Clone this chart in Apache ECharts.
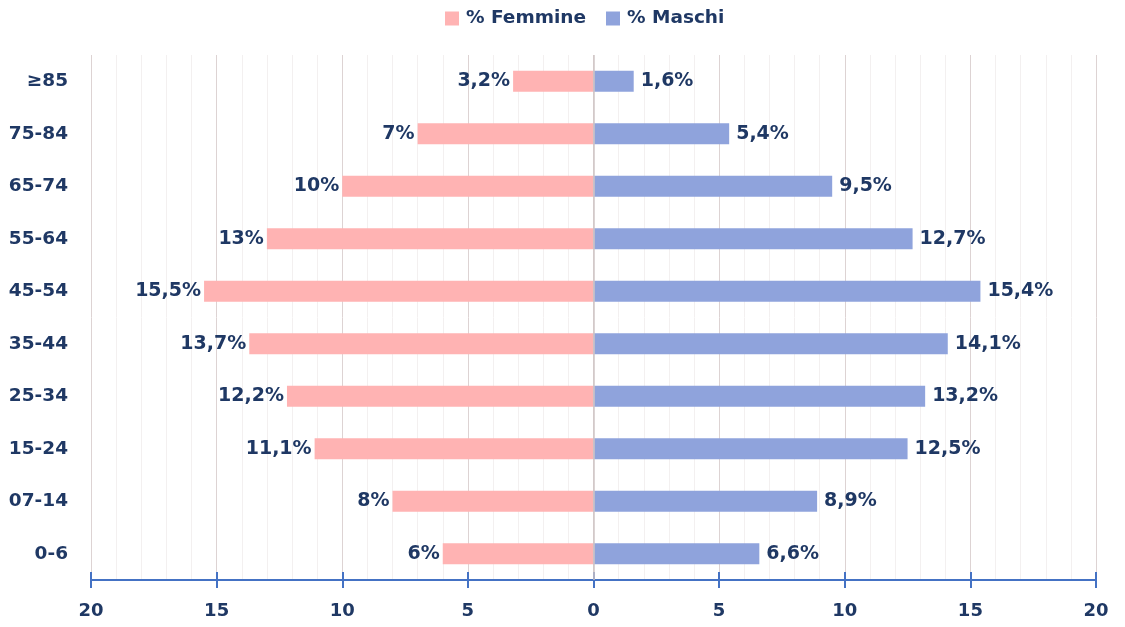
<!DOCTYPE html>
<html>
<head>
<meta charset="utf-8">
<script src="https://cdn.jsdelivr.net/npm/echarts@6/dist/echarts.min.js"></script>
<style>
  html, body { margin: 0; padding: 0; background: #fff; }
  #chart { width: 1125px; height: 627px; }
</style>
</head>
<body>
<div id="chart"></div>
<script>
// classi di eta, dal basso verso l'alto
const categories = ['0-6', '07-14', '15-24', '25-34', '35-44', '45-54', '55-64', '65-74', '75-84', '≥85'];
const femmine = [6, 8, 11.1, 12.2, 13.7, 15.5, 13, 10, 7, 3.2];
const maschi = [6.6, 8.9, 12.5, 13.2, 14.1, 15.4, 12.7, 9.5, 5.4, 1.6];
const xTicks = [-20, -15, -10, -5, 0, 5, 10, 15, 20];

const navy = '#1F3864';
const font = '"DejaVu Sans", sans-serif';

function pct(v) {
    return String(Math.abs(v)).replace('.', ',') + '%';
}

const chart = echarts.init(document.getElementById('chart'));
chart.setOption({
    animation: false,
    textStyle: { fontFamily: font },
    legend: {
        top: 4,
        left: 440,
        icon: 'rect',
        itemWidth: 14,
        itemHeight: 14,
        itemGap: 20,
        textStyle: { color: navy, fontWeight: 'bold', fontSize: 18.5, fontFamily: font, padding: [0, 0, 0, 2] },
        data: ['% Femmine', '% Maschi']
    },
    grid: { left: 91, right: 29, top: 55, bottom: 47 },
    xAxis: [{
        type: 'value',
        min: xTicks[0],
        max: xTicks[xTicks.length - 1],
        interval: 5,
        position: 'bottom',
        axisLine: { show: true, lineStyle: { color: '#4472C4', width: 2 } },
        axisTick: { show: true, length: 8, lineStyle: { color: '#4472C4', width: 2 } },
        axisLabel: {
            color: navy, fontWeight: 'bold', fontSize: 18, margin: 22,
            formatter: v => String(Math.abs(v))
        },
        splitLine: { show: true, lineStyle: { color: '#ddd3d3', width: 1 } },
        minorTick: { show: false, splitNumber: 5 },
        minorSplitLine: { show: true, lineStyle: { color: '#f3f0f0', width: 1 } }
    }, {
        type: 'value',
        min: xTicks[0],
        max: xTicks[xTicks.length - 1],
        interval: 5,
        position: 'bottom',
        axisLine: { show: false },
        axisTick: { show: true, inside: true, length: 8, lineStyle: { color: '#4472C4', width: 2 } },
        axisLabel: { show: false },
        splitLine: { show: false }
    }],
    yAxis: {
        type: 'category',
        data: categories,
        axisLine: { show: false },
        axisTick: { show: false },
        axisLabel: { color: navy, fontWeight: 'bold', fontSize: 18.5, margin: 23 }
    },
    series: [{
        name: '% Femmine',
        type: 'bar',
        stack: 'pop',
        barWidth: 21,
        data: femmine.map(v => -v),
        itemStyle: { color: '#FFB3B3' },
        label: {
            show: true, position: 'left', distance: 3,
            color: navy, fontWeight: 'bold', fontSize: 19,
            formatter: p => pct(p.value)
        }
    }, {
        name: '% Maschi',
        type: 'bar',
        stack: 'pop',
        barWidth: 21,
        data: maschi,
        itemStyle: { color: '#8FA3DC' },
        label: {
            show: true, position: 'right', distance: 7,
            color: navy, fontWeight: 'bold', fontSize: 19,
            formatter: p => pct(p.value)
        }
    }, {
        // linea verticale dello zero
        type: 'line',
        data: [],
        markLine: {
            silent: true,
            symbol: 'none',
            label: { show: false },
            lineStyle: { color: '#cfc6c6', type: 'solid', width: 1.5 },
            data: [{ xAxis: 0 }]
        }
    }]
});
</script>
</body>
</html>
